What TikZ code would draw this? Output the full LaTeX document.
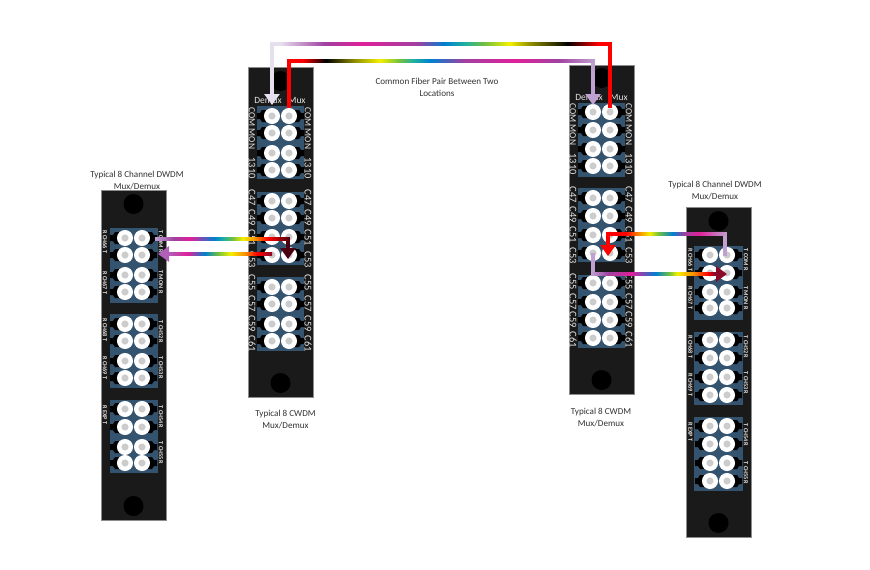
\documentclass[tikz,border=0pt]{standalone}
\usepackage{fontspec}
\setmainfont{Carlito}
\usetikzlibrary{arrows.meta,calc}
\definecolor{panelblack}{HTML}{1A1A1A}
\definecolor{blockblue}{HTML}{34536F}
\definecolor{portgray}{HTML}{CCCCCC}
\definecolor{lbl}{HTML}{E4E4E4}
\definecolor{cap}{HTML}{333333}
\definecolor{lav}{HTML}{E6DFEE}
\definecolor{lavb}{HTML}{BFA0D0}
\definecolor{maroon}{HTML}{4A0010}
\definecolor{plum}{HTML}{B060B8}
\definecolor{wine}{HTML}{8B0A2A}
\definecolor{fpurple}{HTML}{A040A0}
\definecolor{fmag}{HTML}{E0209A}
\definecolor{fblue}{HTML}{0080D0}
\definecolor{fcyan}{HTML}{20B0A0}
\definecolor{fgreen}{HTML}{70C040}
\definecolor{fyel}{HTML}{F4F000}
\definecolor{fora}{HTML}{F89000}
\definecolor{folive}{HTML}{909000}
\pgfdeclarehorizontalshading{fibtop}{100bp}{color(0bp)=(lav);color(25bp)=(lav);color(26.5bp)=(lav);color(33bp)=(fpurple);color(38.5bp)=(fmag);color(46.5bp)=(fpurple);color(50.5bp)=(fblue);color(53.5bp)=(fcyan);color(56.3bp)=(fgreen);color(60bp)=(fyel);color(63bp)=(folive);color(68.5bp)=(black);color(73bp)=(red);color(100bp)=(red)}
\pgfdeclarehorizontalshading{fibsec}{100bp}{color(0bp)=(red);color(27.5bp)=(red);color(31.3bp)=(black);color(36bp)=(folive);color(40bp)=(fyel);color(43.3bp)=(fgreen);color(45.5bp)=(fcyan);color(48.3bp)=(fblue);color(53.7bp)=(fpurple);color(62bp)=(fmag);color(69bp)=(fpurple);color(75bp)=(lavb);color(100bp)=(lavb)}
\pgfdeclarehorizontalshading{fibla}{100bp}{color(0bp)=(lavb);color(25bp)=(lavb);color(32bp)=(fpurple);color(38bp)=(fmag);color(47bp)=(fblue);color(50.5bp)=(fcyan);color(53.8bp)=(fgreen);color(57.5bp)=(fyel);color(62bp)=(fora);color(67bp)=(red);color(75bp)=(maroon);color(100bp)=(maroon)}
\pgfdeclarehorizontalshading{fiblb}{100bp}{color(0bp)=(plum);color(25bp)=(plum);color(34.5bp)=(fmag);color(42.75bp)=(fblue);color(49bp)=(fgreen);color(55bp)=(fyel);color(62bp)=(fora);color(67.75bp)=(red);color(75bp)=(wine);color(100bp)=(wine)}
\pgfdeclarehorizontalshading{fibra}{100bp}{color(0bp)=(red);color(33bp)=(red);color(38.75bp)=(fora);color(43bp)=(fyel);color(46.75bp)=(fgreen);color(52.5bp)=(fblue);color(57.5bp)=(fpurple);color(63.5bp)=(fmag);color(75bp)=(lavb);color(100bp)=(lavb)}
\pgfdeclarehorizontalshading{fibrb}{100bp}{color(0bp)=(lavb);color(25bp)=(lavb);color(32bp)=(fpurple);color(41.5bp)=(fmag);color(51.25bp)=(fblue);color(56.75bp)=(fgreen);color(60bp)=(fyel);color(66.5bp)=(fora);color(72.5bp)=(red);color(75bp)=(wine);color(100bp)=(wine)}
\newcommand{\fibrun}[3]{\shade[shading=#3] ([yshift=1.9pt]#1) rectangle ([yshift=-1.9pt]#2);}
\newcommand{\plate}[5]{% name, left, top, bottom, top hole y
  \pgfmathsetmacro{\pmid}{#2+32.5}
  \node[platebox,minimum height=#4pt-#3pt] (#1) at (\pmid,{(#3+#4)/2}) {};
  \fill[black] (\pmid,#5) circle (10pt);
  \fill[black] (\pmid,#4-14) circle (10pt);
}
\newcommand{\bluebox}[4]{\fill[blockblue] (#1,#3) rectangle (#2,#4);}
\newcommand{\portrows}[4]{% name, x1, x2, list r/y
  \foreach \r/\y in {#4}{
    \fill[black] (#2-15,\y-3) -- (#2-12,\y-3) -- (#2-10,\y-6) -- (#2,\y-6) -- (#2,\y+6) -- (#2-10,\y+6) -- (#2-12,\y+3) -- (#2-15,\y+3) -- cycle;
    \fill[black] (#3+15,\y-3) -- (#3+12,\y-3) -- (#3+10,\y-6) -- (#3,\y-6) -- (#3,\y+6) -- (#3+10,\y+6) -- (#3+12,\y+3) -- (#3+15,\y+3) -- cycle;
    \node[fport] (#1-\r-1) at (#2,\y) {};
    \node[fport] (#1-\r-2) at (#3,\y) {};
  }
}
\newcommand{\sidelabels}[3]{% style, x, list y/text
  \foreach \y/\t [count=\i] in {#3}{\node[#1] at (#2,\y) {\t};}
}
\tikzset{
  platebox/.style={draw=black!45,line width=0.5pt,fill=panelblack,minimum width=65pt,inner sep=0pt,outer sep=0pt},
  fport/.style={circle,fill=portgray,draw=white,line width=4.4pt,inner sep=0pt,minimum size=11.6pt,outer sep=0pt},
  biglabel/.style={text=lbl,rotate=-90,font=\fontsize{10.4pt}{11pt}\selectfont,inner sep=0pt},
  namelabel/.style={text=lbl,rotate=-90,font=\fontsize{9.4pt}{10pt}\selectfont,inner sep=0pt},
  smalllabel/.style={text=lbl,rotate=-90,font=\fontsize{6.2pt}{7pt}\selectfont\bfseries,inner sep=0pt},
  toplabel/.style={text=lbl,font=\fontsize{9.5pt}{11pt}\selectfont,inner sep=0pt},
  caption/.style={text=cap,font=\fontsize{9.1pt}{12.2pt}\selectfont,align=center,inner sep=0pt},
  headL/.style={-{Triangle[length=11pt,width=15pt]},line width=3.8pt},
  thickrun/.style={line width=3.8pt}
}
\begin{document}
\begin{tikzpicture}[x=1pt,y=-1pt]
\useasboundingbox (0,0) rectangle (870,570);
\fill[white] (0,0) rectangle (870,570);

% panels
\plate{A}{101}{190}{520}{204}
\plate{B}{248}{67}{397}{81}
\plate{C}{569}{65}{394}{78}
\plate{D}{686}{207}{537}{221}

% blocks
\bluebox{110}{158}{228}{303}\bluebox{110}{158}{314}{388}\bluebox{110}{158}{400}{473}
\bluebox{257}{304}{106}{179}\bluebox{257}{304}{192}{265}\bluebox{257}{304}{277}{351}
\bluebox{578}{625}{103}{177}\bluebox{578}{625}{188}{262}\bluebox{578}{625}{275}{348}
\bluebox{694}{743}{246}{320}\bluebox{694}{743}{332}{405}\bluebox{694}{743}{417}{491}

% ports
\portrows{A}{125}{142}{1/238,2/255,3/275,4/292,5/324,6/341,7/361,8/378,9/409,10/427,11/447,12/463}
\portrows{B}{272}{289}{1/116,2/133,3/153,4/170,5/201,6/218,7/237,8/255,9/287,10/304,11/324,12/341}
\portrows{C}{593}{610}{1/112,2/130,3/149,4/166,5/198,6/216,7/235,8/253,9/283,10/302,11/320,12/338}
\portrows{D}{710}{727}{1/255,2/273,3/292,4/308,5/340,6/358,7/377,8/395,9/426,10/444,11/463,12/481}

% labels
\sidelabels{namelabel}{252}{117/COM,139/MON}
\sidelabels{namelabel}{308}{117/COM,139/MON}
\sidelabels{namelabel}{573}{113/COM,135/MON}
\sidelabels{namelabel}{629}{113/COM,135/MON}
\sidelabels{biglabel}{252}{168/1310,198/C47,218/C49,238/C51,260/C53,283/C55,304/C57,324/C59,344/C61}
\sidelabels{biglabel}{308}{168/1310,198/C47,218/C49,238/C51,260/C53,283/C55,304/C57,324/C59,344/C61}
\sidelabels{biglabel}{573}{164/1310,195/C47,215/C49,235/C51,256/C53,282/C55,302/C57,320/C59,340/C61}
\sidelabels{biglabel}{629}{164/1310,195/C47,215/C49,235/C51,256/C53,282/C55,302/C57,320/C59,340/C61}
\node[toplabel] (bdx) at (268,100) {Demux};
\node[toplabel] (bmx) at (297,100) {Mux};
\node[toplabel] (cdx) at (589,97) {Demux};
\node[toplabel] (cmx) at (619,97) {Mux};
\sidelabels{smalllabel}{105}{242/R CH66 T,283/R CH67 T,330/R CH68 T,368/R CH69 T,415/R EXP T}
\sidelabels{smalllabel}{161}{242/T COM R,282/T MON R,332/T CH52 R,368/T CH53 R,417/T CH54 R,453/T CH55 R}
\sidelabels{smalllabel}{690.5}{260/R CH66 T,298/R CH67 T,347/R CH68 T,385/R CH69 T,432/R EXP T}
\sidelabels{smalllabel}{746}{260/T COM R,298/T MON R,347/T CH52 R,383/T CH53 R,435/T CH54 R,473/T CH55 R}

% captions
\node[caption] (capA) at (137,180.5) {Typical 8 Channel DWDM\\Mux/Demux};
\node[caption] (capD) at (715,190.5) {Typical 8 Channel DWDM\\Mux/Demux};
\node[caption] (capB) at (285.5,419.5) {Typical 8 CWDM\\Mux/Demux};
\node[caption] (capC) at (601,417.5) {Typical 8 CWDM\\Mux/Demux};
\node[caption] (capT) at (437,87) {Common Fiber Pair Between Two\\Locations};

% top pair
\coordinate (t1l) at (272,44); \coordinate (t1r) at (610,44);
\coordinate (t2l) at (289,61); \coordinate (t2r) at (593,61);
\coordinate (tipB) at (272,105); \coordinate (tipC) at (593,105);
\coordinate (endBm) at (289,108); \coordinate (endCm) at (610,108);
\draw[thickrun,draw=red] (t2l) -- (endBm);
\draw[thickrun,draw=red] (t1r) -- (endCm);
\draw[headL,color=lav] (t1l) -- (tipB);
\draw[headL,color=lavb] (t2r) -- (tipC);
\fibrun{$(t1l)+(-1.9,0)$}{$(t1r)+(1.9,0)$}{fibtop}
\fibrun{$(t2l)+(-1.9,0)$}{$(t2r)+(1.9,0)$}{fibsec}

% left pair
\coordinate (la0) at (155,239); \coordinate (la1) at (288,239); \coordinate (latip) at (288,259);
\coordinate (lb0) at (272,254); \coordinate (lb1) at (168,254); \coordinate (lbtip) at (158,254);
\draw[headL,color=maroon] (la1) -- (latip);
\fibrun{la0}{$(la1)+(1.9,0)$}{fibla}
\draw[headL,color=plum] (lb1) -- (lbtip);
\fibrun{lb1}{lb0}{fiblb}

% right pair
\coordinate (ra0) at (725,256); \coordinate (ra1) at (725,234); \coordinate (ra2) at (608,234); \coordinate (ratip) at (608,256);
\coordinate (rb0) at (593,253); \coordinate (rb1) at (593,274); \coordinate (rb2) at (714,274); \coordinate (rbtip) at (727,274);
\draw[thickrun,draw=lavb] (ra0) -- (ra1);
\draw[headL,color=red] (ra2) -- (ratip);
\fibrun{$(ra2)+(-1.9,0)$}{$(ra1)+(1.9,0)$}{fibra}
\draw[thickrun,draw=lavb] (rb0) -- (rb1);
\draw[headL,color=wine] (rb2) -- (rbtip);
\fibrun{$(rb1)+(-1.9,0)$}{rb2}{fibrb}
\end{tikzpicture}
\end{document}
